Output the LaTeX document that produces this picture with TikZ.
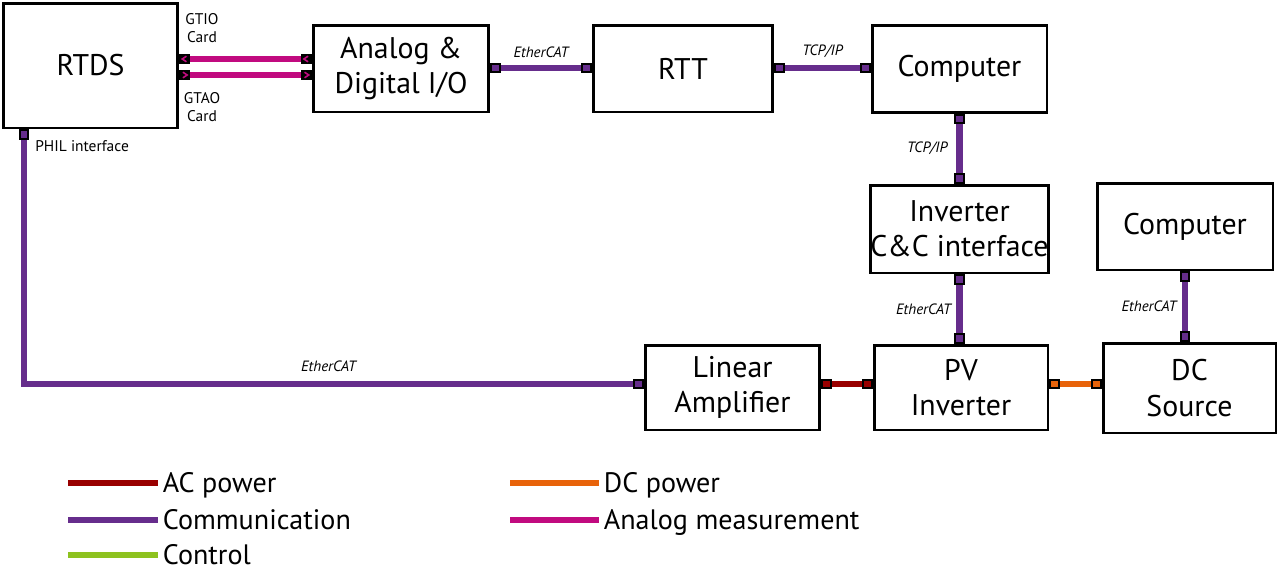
\documentclass[tikz,border=0pt]{standalone}
\usepackage{fontspec}
\setmainfont{PT Sans}
\usepackage{tikz}
\usetikzlibrary{positioning}
\definecolor{acPow}{HTML}{990000}
\definecolor{comm}{HTML}{662D8C}
\definecolor{ctrl}{HTML}{8DC21F}
\definecolor{dcPow}{HTML}{E8630A}
\definecolor{anlg}{HTML}{C10A7F}

\begin{document}
\begin{tikzpicture}[x=0.02cm, y=-0.02cm,
  box/.style={draw, line width=1.7pt, align=center, inner sep=0pt,
    font=\fontsize{17}{20}\selectfont},
  port/.style={draw, line width=1.1pt, minimum size=0.17cm, inner sep=0pt},
  wire/.style={line width=3.6pt},
  lbl/.style={text=black, font=\fontsize{8.5}{9}\selectfont\itshape, inner sep=3pt},
  note/.style={font=\fontsize{8.8}{10.5}\selectfont, align=center, inner sep=0pt},
  legend/.style={text=black, font=\fontsize{16}{17}\selectfont, inner sep=0pt,
    text height=11pt, text depth=0pt, anchor=west, xshift=1pt}]
  \useasboundingbox (0,0) rectangle (1278,569);
  % blocks
  \node[box, minimum width=3.5cm, minimum height=2.5cm] (rtds) at (90.5,65.5) {RTDS};
  \node[box, minimum width=3.52cm, minimum height=1.74cm] (aio) at (401,68.5) {Analog \&\\Digital I/O};
  \node[box, minimum width=3.6cm, minimum height=1.74cm] (rtt) at (683,68.5) {RTT};
  \node[box, minimum width=3.5cm, minimum height=1.74cm] (pcA) at (959.5,69) {Computer};
  \node[box, minimum width=3.5cm, minimum height=1.76cm] (cci) at (959.5,229) {Inverter\\C\&C interface};
  \node[box, minimum width=3.52cm, minimum height=1.74cm] (pcB) at (1185,226.5) {Computer};
  \node[box, minimum width=3.5cm, minimum height=1.7cm] (amp) at (732.5,387.5) {Linear\\Amplifier};
  \node[box, minimum width=3.48cm, minimum height=1.7cm] (pv) at (961,387.5) {PV\\Inverter};
  \node[box, minimum width=3.46cm, minimum height=1.8cm] (dcs) at (1189.5,388) {DC\\Source};

  % analog ports
  \node[port, fill=black, anchor=west] (gtio) at (rtds.east |- 0,59) {};
  \node[port, fill=black, anchor=west] (gtao) at (rtds.east |- 0,75) {};
  \node[port, fill=black, anchor=east] (aioIn) at (aio.west |- 0,59) {};
  \node[port, fill=black, anchor=east] (aioOut) at (aio.west |- 0,75) {};
  % communication ports
  \node[port, fill=comm, anchor=west] (aioE) at (aio.east |- 0,68) {};
  \node[port, fill=comm, anchor=east] (rttW) at (rtt.west |- 0,68) {};
  \node[port, fill=comm, anchor=west] (rttE) at (rtt.east |- 0,68) {};
  \node[port, fill=comm, anchor=east] (pcAW) at (pcA.west |- 0,68) {};
  \node[port, fill=comm, anchor=north] (pcAS) at (pcA.south) {};
  \node[port, fill=comm, anchor=south] (cciN) at (cci.north) {};
  \node[port, fill=comm, anchor=north] (cciS) at (cci.south) {};
  \node[port, fill=comm, anchor=south] (pvN) at (pv.north -| cci.south) {};
  \node[port, fill=comm, anchor=north] (pcBS) at (pcB.south) {};
  \node[port, fill=comm, anchor=south] (dcsN) at (dcs.north -| pcB.south) {};
  \node[port, fill=comm, anchor=north] (rtdsS) at (rtds.south -| 24,0) {};
  \node[port, fill=comm, anchor=east] (ampW) at (amp.west |- 0,384) {};
  % power ports
  \node[port, fill=acPow, anchor=west] (ampE) at (amp.east |- 0,384) {};
  \node[port, fill=acPow, anchor=east] (pvW) at (pv.west |- 0,384) {};
  \node[port, fill=dcPow, anchor=west] (pvE) at (pv.east |- 0,384) {};
  \node[port, fill=dcPow, anchor=east] (dcsW) at (dcs.west |- 0,384) {};

  % chevrons in the analog ports
  \draw[anlg, line width=0.9pt] ([xshift=1pt,yshift=1.6pt]gtio.center) -- ([xshift=-1.4pt]gtio.center) -- ([xshift=1pt,yshift=-1.6pt]gtio.center);
  \draw[anlg, line width=0.9pt] ([xshift=1pt,yshift=1.6pt]aioIn.center) -- ([xshift=-1.4pt]aioIn.center) -- ([xshift=1pt,yshift=-1.6pt]aioIn.center);
  \draw[anlg, line width=0.9pt] ([xshift=-1pt,yshift=1.6pt]gtao.center) -- ([xshift=1.4pt]gtao.center) -- ([xshift=-1pt,yshift=-1.6pt]gtao.center);
  \draw[anlg, line width=0.9pt] ([xshift=-1pt,yshift=1.6pt]aioOut.center) -- ([xshift=1.4pt]aioOut.center) -- ([xshift=-1pt,yshift=-1.6pt]aioOut.center);

  % links
  \draw[wire, anlg] (gtio) -- (aioIn);
  \draw[wire, anlg] (gtao) -- (aioOut);
  \draw[wire, comm] (aioE) -- node[lbl, above=1pt] {EtherCAT} (rttW);
  \draw[wire, comm] (rttE) -- node[lbl, above=1pt] {TCP/IP} (pcAW);
  \draw[wire, comm] (pcAS) -- node[lbl, left=2pt] {TCP/IP} (cciN);
  \draw[wire, comm] (cciS) -- node[lbl, left] {EtherCAT} (pvN);
  \draw[wire, comm] (pcBS) -- node[lbl, left] {EtherCAT} (dcsN);
  \draw[wire, comm] (rtdsS) |- node[lbl, pos=0.75, above=2pt] {EtherCAT} (ampW);
  \draw[wire, acPow] (ampE) -- (pvW);
  \draw[wire, dcPow] (pvE) -- (dcsW);

  % card and interface notes
  \node[note] (gtioTxt) at (202,28) {GTIO\\Card};
  \node[note] (gtaoTxt) at (202,107) {GTAO\\Card};
  \node[note, anchor=west] (philTxt) at (35,146) {PHIL interface};

  % legend
  \draw[wire, acPow] (68,483) -- (158,483) node[legend] (lgAC) {AC power};
  \draw[wire, comm] (68,520) -- (158,520) node[legend] (lgComm) {Communication};
  \draw[wire, ctrl] (68,555) -- (158,555) node[legend] (lgCtrl) {Control};
  \draw[wire, dcPow] (510,483) -- (599,483) node[legend] (lgDC) {DC power};
  \draw[wire, anlg] (510,520) -- (599,520) node[legend] (lgAn) {Analog measurement};
\end{tikzpicture}
\end{document}
